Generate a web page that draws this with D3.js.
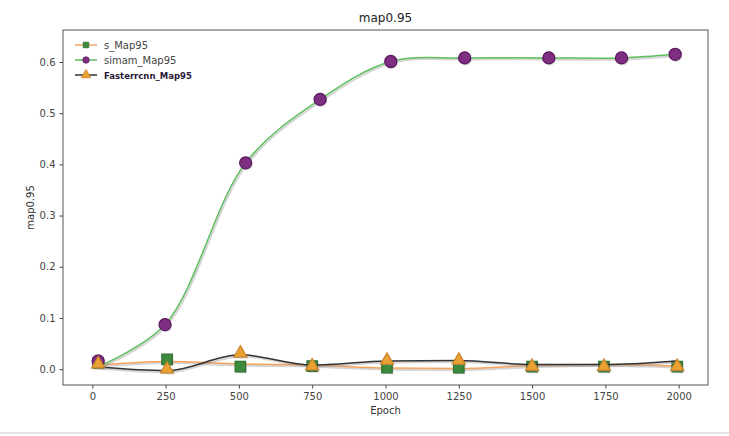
<!DOCTYPE html>
<html><head><meta charset="utf-8">
<script src="https://cdn.jsdelivr.net/npm/d3@7"></script>
<style>body{margin:0;background:#fff}svg{display:block}</style>
</head><body>
<svg id="c" width="729" height="436"></svg>
<script>
// ---- data ----
const seriesNames = ["s_Map95", "simam_Map95", "Fasterrcnn_Map95"];
const xTicks = [0, 250, 500, 750, 1000, 1250, 1500, 1750, 2000];
const yTicks = [0.0, 0.1, 0.2, 0.3, 0.4, 0.5, 0.6];

const epochsA = [20, 255, 505, 750, 1005, 1250, 1500, 1745, 1995];
const sMarkers = [0.012, 0.019, 0.005, 0.006, 0.003, 0.003, 0.005, 0.005, 0.005];
const sLine    = [0.008, 0.015, 0.010, 0.008, 0.002, 0.001, 0.007, 0.009, 0.006];
const fMarkers = [0.010, 0.000, 0.031, 0.006, 0.017, 0.017, 0.005, 0.005, 0.005];
const fLine    = [0.004, -0.003, 0.028, 0.008, 0.016, 0.017, 0.009, 0.009, 0.016];

const epochsB = [20, 248, 523, 777, 1018, 1270, 1557, 1805, 1988];
const simamMarkers = [0.016, 0.087, 0.403, 0.527, 0.601, 0.608, 0.608, 0.608, 0.615];
const simamLine    = [0.005, 0.087, 0.403, 0.527, 0.601, 0.608, 0.608, 0.608, 0.615];

// ---- layout ----
const svg = d3.select("#c");
const L = 63, R = 708, T = 30, B = 385;
const x = d3.scaleLinear().domain([-100, 2100]).range([L, R]);
const y = d3.scaleLinear().domain([-0.031, 0.6625]).range([B, T]);
const font = "DejaVu Sans, sans-serif";

// bottom separator line
svg.append("line").attr("x1", 0).attr("x2", 729).attr("y1", 433).attr("y2", 433)
  .attr("stroke", "#d8d8d8").attr("stroke-width", 1.5);

// title
svg.append("text").attr("x", (L + R) / 2).attr("y", 22).attr("text-anchor", "middle")
  .attr("font-family", font).attr("font-size", 12).attr("fill", "#222").text("map0.95");

// axes
const gx = svg.append("g").attr("transform", `translate(0,${B})`)
  .call(d3.axisBottom(x).tickValues(xTicks).tickFormat(d3.format("d")).tickSizeOuter(0).tickSize(3.5).tickPadding(4));
const gy = svg.append("g").attr("transform", `translate(${L},0)`)
  .call(d3.axisLeft(y).tickValues(yTicks).tickFormat(d3.format(".1f")).tickSizeOuter(0).tickSize(3.5).tickPadding(4));
[gx, gy].forEach(g => {
  g.select(".domain").remove();
  g.selectAll("line").attr("stroke", "#444");
  g.selectAll("text").attr("font-family", font).attr("font-size", 10).attr("fill", "#444");
});

// frame
svg.append("rect").attr("x", L).attr("y", T).attr("width", R - L).attr("height", B - T)
  .attr("fill", "none").attr("stroke", "#555").attr("stroke-width", 1);

// axis labels
svg.append("text").attr("x", (L + R) / 2).attr("y", 414).attr("text-anchor", "middle")
  .attr("font-family", font).attr("font-size", 10).attr("fill", "#333").text("Epoch");
svg.append("text").attr("transform", `translate(34,${(T + B) / 2}) rotate(-90)`).attr("text-anchor", "middle")
  .attr("font-family", font).attr("font-size", 10).attr("fill", "#333").text("map0.95");

const plot = svg.append("g");
const lineMono = d3.line().x(d => x(d[0])).y(d => y(d[1])).curve(d3.curveMonotoneX);
const lineCR = d3.line().x(d => x(d[0])).y(d => y(d[1])).curve(d3.curveCatmullRom.alpha(0.5));

function drawLine(xs, ys, color, gen) {
  const pts = xs.map((e, i) => [e, ys[i]]);
  plot.append("path").attr("d", gen(pts)).attr("fill", "none")
    .attr("stroke", "#888").attr("stroke-opacity", 0.35).attr("stroke-width", 2.2)
    .attr("transform", "translate(1.2,1.5)");
  plot.append("path").attr("d", gen(pts)).attr("fill", "none")
    .attr("stroke", color).attr("stroke-width", 1.5);
}
const sym = {
  square: d3.symbol().type(d3.symbolSquare).size(110),
  circle: d3.symbol().type(d3.symbolCircle).size(115),
  triangle: d3.symbol().type(d3.symbolTriangle).size(75)
};
function drawMarkers(xs, ys, shape, fill, edge) {
  const pts = xs.map((e, i) => [e, ys[i]]);
  plot.append("g").selectAll("path.sh").data(pts).join("path")
    .attr("d", sym[shape]).attr("transform", d => `translate(${x(d[0]) + 1.2},${y(d[1]) + 1.5})`)
    .attr("fill", "#888").attr("opacity", 0.3);
  plot.append("g").selectAll("path.m").data(pts).join("path")
    .attr("d", sym[shape]).attr("transform", d => `translate(${x(d[0])},${y(d[1])})`)
    .attr("fill", fill).attr("stroke", edge).attr("stroke-width", 1.2);
}

drawLine(epochsA, sLine, "#f8a35c", lineMono);
drawMarkers(epochsA, sMarkers, "square", "#3c8a3c", "#2e6e2e");
drawLine(epochsB, simamLine, "#5cbf5c", lineCR);
drawMarkers(epochsB, simamMarkers, "circle", "#7e2f82", "#5a1760");
drawLine(epochsA, fLine, "#333333", lineMono);
drawMarkers(epochsA, fMarkers, "triangle", "#eba132", "#c9842a");

// legend
const legend = [
  {name: seriesNames[0], color: "#f8a35c", shape: "square", fill: "#3c8a3c", edge: "#2e6e2e", bold: false},
  {name: seriesNames[1], color: "#5cbf5c", shape: "circle", fill: "#7e2f82", edge: "#5a1760", bold: false},
  {name: seriesNames[2], color: "#333333", shape: "triangle", fill: "#eba132", edge: "#c9842a", bold: true}
];
const lsym = {
  square: d3.symbol().type(d3.symbolSquare).size(30),
  circle: d3.symbol().type(d3.symbolCircle).size(32),
  triangle: d3.symbol().type(d3.symbolTriangle).size(40)
};
const lg = svg.append("g");
legend.forEach((d, i) => {
  const yy = 45 + i * 15;
  lg.append("line").attr("x1", 75).attr("x2", 97).attr("y1", yy).attr("y2", yy)
    .attr("stroke", d.color).attr("stroke-width", 1.5);
  lg.append("path").attr("d", lsym[d.shape]).attr("transform", `translate(86,${yy})`)
    .attr("fill", d.fill).attr("stroke", d.edge).attr("stroke-width", 0.8);
  lg.append("text").attr("x", 104).attr("y", yy + 3.5).attr("font-family", font)
    .attr("font-size", d.bold ? 8.5 : 10).attr("font-weight", d.bold ? "bold" : "normal")
    .attr("fill", d.bold ? "#2a1a38" : "#444").text(d.name);
});
</script>
</body></html>
